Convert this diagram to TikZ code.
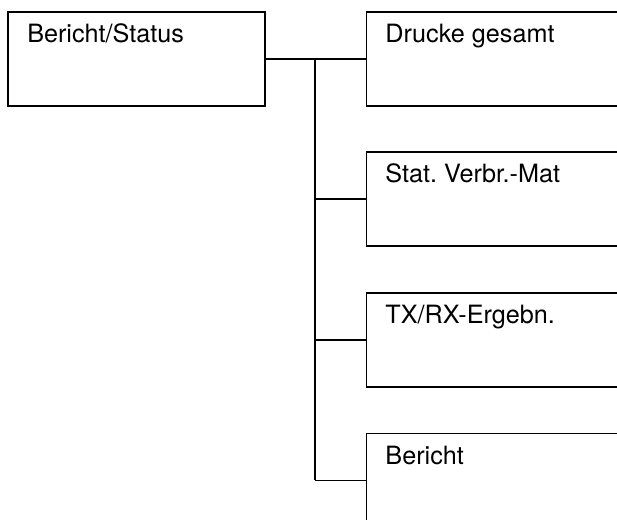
\documentclass[tikz,border=0pt]{standalone}
\usepackage{fontspec}
\setmainfont{TeX Gyre Heros}
\usetikzlibrary{calc}
\frenchspacing
\tikzset{
  menubox/.style={draw=black, line width=1.15pt, rectangle, anchor=north west,
    minimum height=70.5pt, inner sep=0pt},
  leftbox/.style={menubox, minimum width=192.75pt},
  rightbox/.style={menubox, minimum width=210pt},
  lbl/.style={anchor=base west, inner sep=0pt, font=\fontsize{18.9pt}{22pt}\selectfont},
  wire/.style={draw=black, line width=1.15pt}
}
\begin{document}
\begin{tikzpicture}[x=0.75pt, y=-0.75pt]
  \useasboundingbox (0,0) rectangle (617,520);
  \clip (0,0) rectangle (617,520);

  % root item
  \node[leftbox] (root) at (7.3,11) {};
  \node[lbl] (rootlbl) at ($(root.north west)+(19.7,31.5)$) {Bericht/Status};

  % sub items (open to the right, running off the page)
  \node[rightbox] (b1) at (365.7,11) {};
  \node[rightbox] (b2) at (365.7,151.5) {};
  \node[rightbox] (b3) at (365.7,292) {};
  \node[rightbox] (b4) at (365.7,432.5) {};

  \node[lbl] (t1) at ($(b1.north west)+(19.5,31.5)$) {Drucke gesamt};
  \node[lbl] (t2) at ($(b2.north west)+(19.5,31.5)$) {Stat. Verbr.-Mat};
  \node[lbl] (t3) at ($(b3.north west)+(19.5,31.5)$) {TX/RX-Ergebn.};
  \node[lbl] (t4) at ($(b4.north west)+(19.5,31.5)$) {Bericht};

  % tree connectors
  \coordinate (trunk) at (315,0);
  \draw[wire] (root.east) -- (b1.west);
  \draw[wire] (trunk |- b1.west) -- (trunk |- b4.west);
  \draw[wire] (trunk |- b2.west) -- (b2.west);
  \draw[wire] (trunk |- b3.west) -- (b3.west);
  \draw[wire] (trunk |- b4.west) -- (b4.west);
\end{tikzpicture}
\end{document}
